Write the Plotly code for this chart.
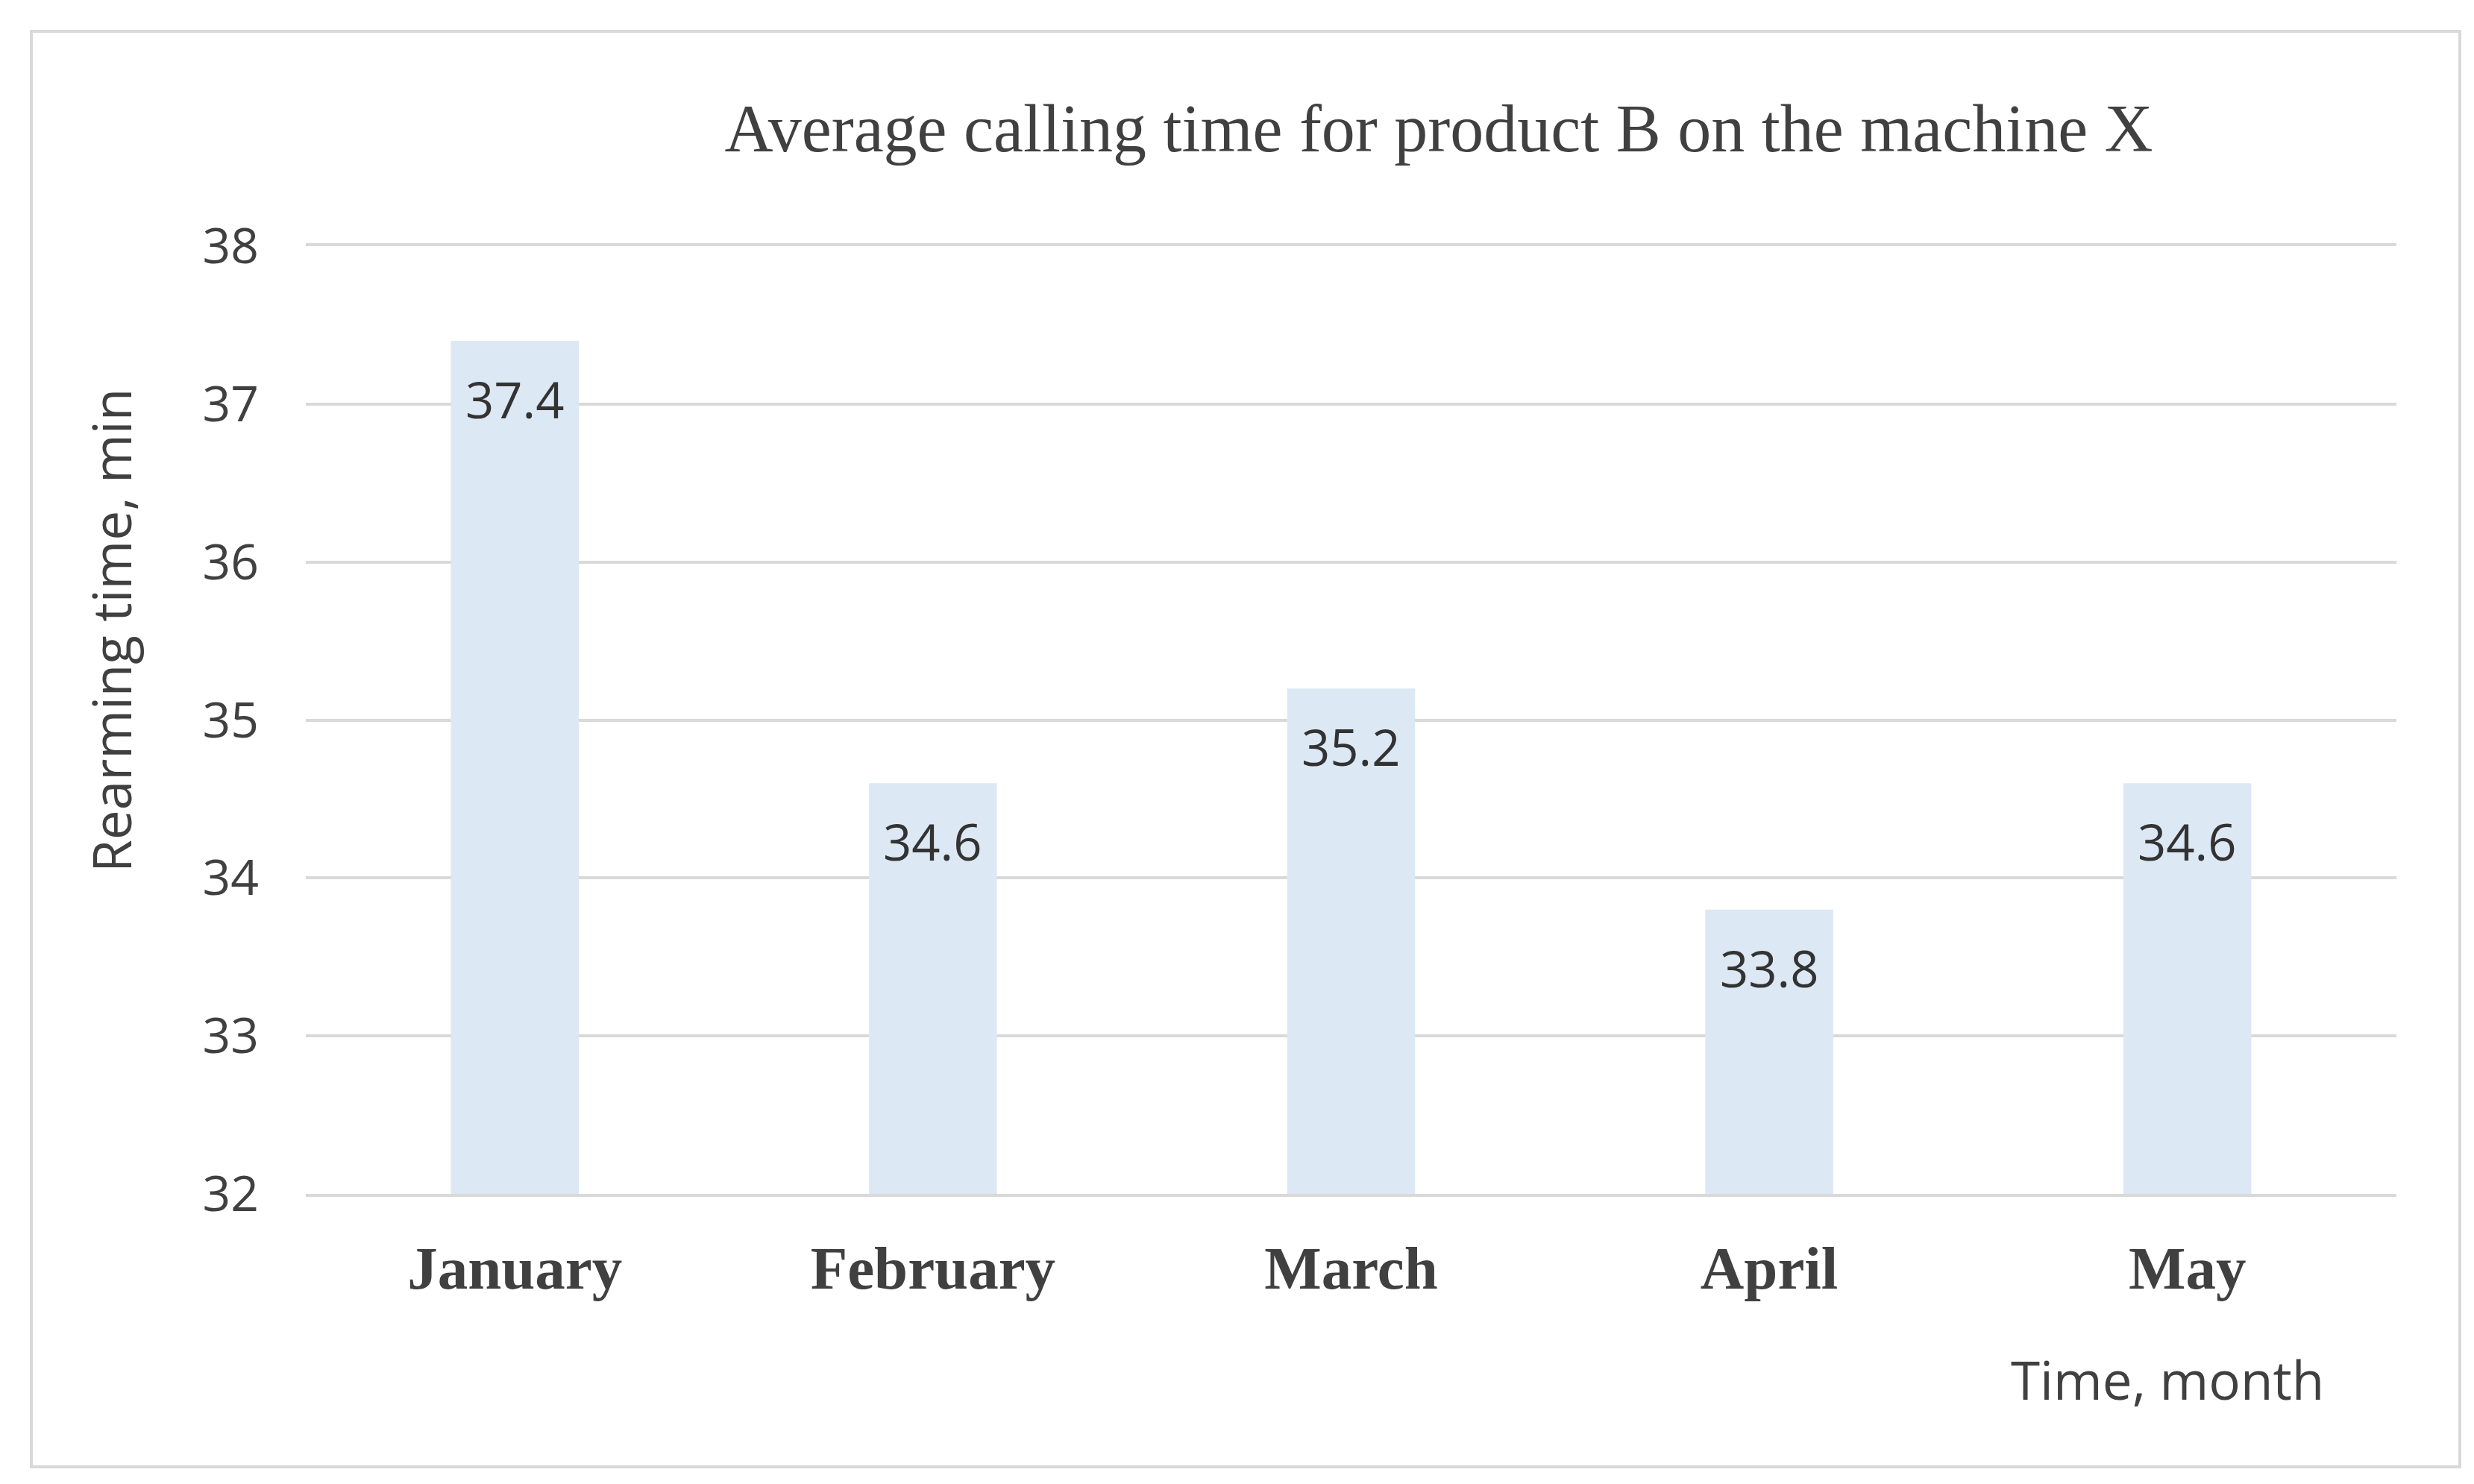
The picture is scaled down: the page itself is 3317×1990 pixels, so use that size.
import plotly.graph_objects as go

months = ["January", "February", "March", "April", "May"]
rearm_time = [37.4, 34.6, 35.2, 33.8, 34.6]
y_ticks = [32, 33, 34, 35, 36, 37, 38]

W, H = 3317, 1990
# plot area in pixels
L, R, T, B = 402, 3205, 322, 1593


def px_x(x):
    return (x - L) / (R - L)


def px_y(y):
    return (B - y) / (B - T)


fig = go.Figure()
fig.add_trace(go.Bar(
    x=months, y=rearm_time,
    marker=dict(color="#DDE8F5", line=dict(width=0)),
    width=0.306,
    hoverinfo="x+y",
))

# value labels inside the bars, just under the top
for m, v in zip(months, rearm_time):
    fig.add_annotation(
        x=m, y=v, text=f"{v}", showarrow=False,
        yanchor="middle", yshift=-78,
        font=dict(family="Open Sans", size=67, color="#333333"),
    )

# axis titles
fig.add_annotation(
    xref="paper", yref="paper", x=px_x(140), y=px_y(838),
    text="Rearming time, min", textangle=-90, showarrow=False,
    xanchor="center", yanchor="middle",
    font=dict(family="Open Sans", size=71, color="#404040"),
)
fig.add_annotation(
    xref="paper", yref="paper", x=px_x(2898), y=px_y(1842),
    text="Time, month", showarrow=False,
    xanchor="center", yanchor="middle",
    font=dict(family="Open Sans", size=71, color="#404040"),
)

# outer chart border
fig.add_shape(
    type="rect", xref="paper", yref="paper",
    x0=px_x(34), x1=px_x(3290), y0=px_y(1959), y1=px_y(34),
    line=dict(color="#D9D9D9", width=4), layer="below",
)

fig.update_layout(
    width=W, height=H,
    margin=dict(l=L, r=W - R, t=T, b=H - B),
    paper_bgcolor="white", plot_bgcolor="white",
    showlegend=False,
    title=dict(
        text="Average calling time for product B on the machine X",
        x=1921 / W, y=1 - 163 / H, xanchor="center", yanchor="middle",
        font=dict(family="Liberation Serif", size=90, color="#404040"),
    ),
    xaxis=dict(
        showgrid=False, zeroline=False,
        showline=True, mirror=True, linecolor="#D9D9D9", linewidth=4,
        layer="below traces",
        ticks="", ticklabelstandoff=26,
        tickfont=dict(family="Liberation Serif", size=81, color="#404040", weight="bold"),
    ),
    yaxis=dict(
        range=[32, 38], tickvals=y_ticks,
        showgrid=True, gridcolor="#D9D9D9", gridwidth=4,
        zeroline=False, showline=False, ticks="",
        layer="below traces",
        ticklabelstandoff=62,
        tickfont=dict(family="Open Sans", size=66, color="#404040"),
    ),
)

fig.write_html("out.html")
